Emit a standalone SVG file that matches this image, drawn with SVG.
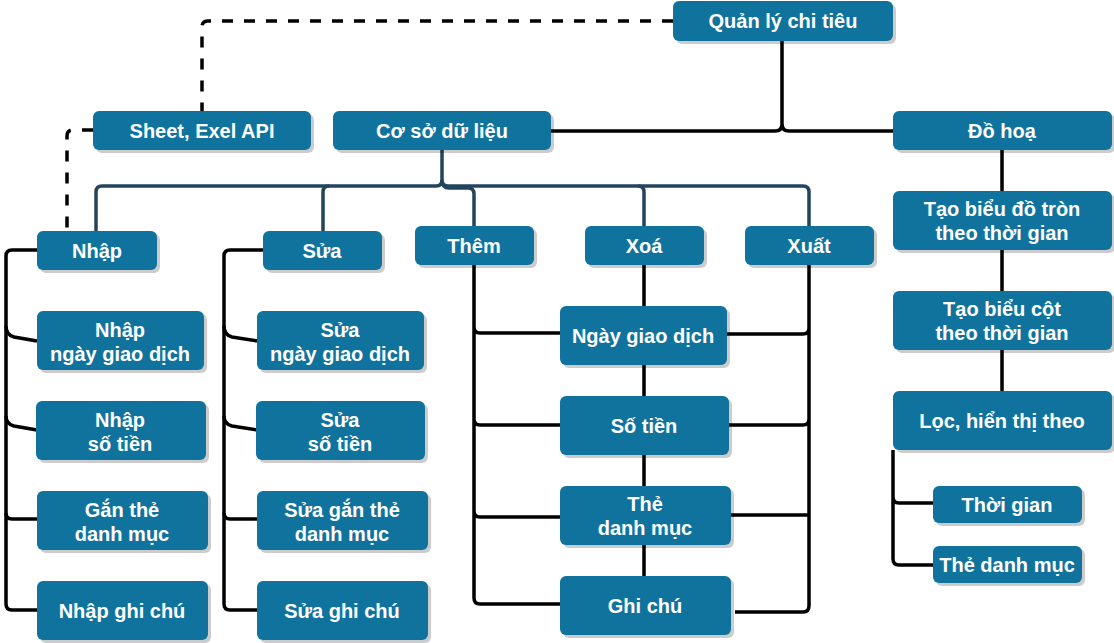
<svg xmlns="http://www.w3.org/2000/svg" width="1114" height="643" viewBox="0 0 1114 643">
<style>
.bx{fill:#10739E}
.sh{fill:#000;opacity:.2}
.t{font-family:"Liberation Sans",Arial,sans-serif;font-weight:bold;font-size:20px;fill:#fff;text-anchor:middle}
.k{fill:none;stroke:#000;stroke-width:3.5;stroke-linejoin:round}
.b{fill:none;stroke:#23445D;stroke-width:3.5;stroke-linejoin:round}
.d{fill:none;stroke:#000;stroke-width:3.5;stroke-dasharray:11 11}
</style>
<rect width="1114" height="643" fill="#fff"/>
<g id="connectors">
<path class="k" d="M782,41 V124 Q782,131 775,131 H551 M782,124 Q782,131 789,131 H893"/>
<path class="d" d="M673,21 H208 Q202,21 202,27 V111"/>
<path class="d" d="M93,130 H73 Q67,130 67,136 V231"/>
<path class="b" d="M442,150 V180 Q442,186 436,186 H102 Q96,186 96,192 V231"/>
<path class="b" d="M329,186 Q323,186 323,192 V231"/>
<path class="b" d="M442,180 Q442,188 449,188 H468 Q474,188 474,194 V226"/>
<path class="b" d="M442,180 Q442,186 448,186 H803 Q809,186 809,192 V226"/>
<path class="b" d="M638,186 Q644,186 644,192 V226"/>
<path class="k" d="M37,250 H12 Q6,250 6,256 V604 Q6,610 12,610 H37"/>
<path class="k" d="M6,326 Q6,335 14,337 L37,341 M6,416 Q6,424 14,426 L37,430 M6,513 Q6,519 12,519 H37"/>
<path class="k" d="M263,250 H230 Q224,250 224,256 V604 Q224,610 230,610 H257"/>
<path class="k" d="M224,326 Q224,335 232,337 L257,341 M224,416 Q224,424 232,426 L257,430 M224,513 Q224,519 230,519 H257"/>
<path class="k" d="M474,265 V598 Q474,604 480,604 H560 M474,327 Q474,333 480,333 H560 M474,419 Q474,425 480,425 H560 M474,511 Q474,517 480,517 H560"/>
<path class="k" d="M809,265 V606 Q809,612 803,612 H735 M727,334 H803 Q809,334 809,328 M729,425 H803 Q809,425 809,419 M731,515 H809"/>
<path class="k" d="M644,265 V306 M644,365 V396 M644,455 V486 M644,545 V576"/>
<path class="k" d="M1002,150 V191 M1002,250 V291 M1002,350 V391"/>
<path class="k" d="M893,450 V559 Q893,565 899,565 H933 M893,497 Q893,503 899,503 H933"/>
</g>
<g id="quanly"><rect class="sh" x="676" y="4" width="220" height="40" rx="6"/><rect class="bx" x="673" y="1" width="220" height="40" rx="6"/><text class="t" x="783" y="28">Quản lý chi tiêu</text></g>
<g id="sheet"><rect class="sh" x="96" y="114" width="218" height="39" rx="6"/><rect class="bx" x="93" y="111" width="218" height="39" rx="6"/><text class="t" x="202" y="138">Sheet, Exel API</text></g>
<g id="csdl"><rect class="sh" x="336" y="114" width="218" height="39" rx="6"/><rect class="bx" x="333" y="111" width="218" height="39" rx="6"/><text class="t" x="442" y="138">Cơ sở dữ liệu</text></g>
<g id="dohoa"><rect class="sh" x="896" y="114" width="219" height="39" rx="6"/><rect class="bx" x="893" y="111" width="219" height="39" rx="6"/><text class="t" x="1002" y="138">Đồ hoạ</text></g>
<g id="nhap"><rect class="sh" x="40" y="234" width="120" height="39" rx="6"/><rect class="bx" x="37" y="231" width="120" height="39" rx="6"/><text class="t" x="97" y="258">Nhập</text></g>
<g id="sua"><rect class="sh" x="266" y="234" width="119" height="39" rx="6"/><rect class="bx" x="263" y="231" width="119" height="39" rx="6"/><text class="t" x="322" y="258">Sửa</text></g>
<g id="them"><rect class="sh" x="418" y="229" width="119" height="39" rx="6"/><rect class="bx" x="415" y="226" width="119" height="39" rx="6"/><text class="t" x="474" y="253">Thêm</text></g>
<g id="xoa"><rect class="sh" x="588" y="229" width="119" height="39" rx="6"/><rect class="bx" x="585" y="226" width="119" height="39" rx="6"/><text class="t" x="644" y="253">Xoá</text></g>
<g id="xuat"><rect class="sh" x="748" y="229" width="129" height="39" rx="6"/><rect class="bx" x="745" y="226" width="129" height="39" rx="6"/><text class="t" x="809" y="253">Xuất</text></g>
<g id="bdtron"><rect class="sh" x="896" y="194" width="219" height="59" rx="6"/><rect class="bx" x="893" y="191" width="219" height="59" rx="6"/><text class="t" x="1002" y="216">Tạo biểu đồ tròn</text><text class="t" x="1002" y="240">theo thời gian</text></g>
<g id="bdcot"><rect class="sh" x="896" y="294" width="219" height="59" rx="6"/><rect class="bx" x="893" y="291" width="219" height="59" rx="6"/><text class="t" x="1002" y="316">Tạo biểu cột</text><text class="t" x="1002" y="340">theo thời gian</text></g>
<g id="loc"><rect class="sh" x="896" y="394" width="219" height="59" rx="6"/><rect class="bx" x="893" y="391" width="219" height="59" rx="6"/><text class="t" x="1002" y="428">Lọc, hiển thị theo</text></g>
<g id="thoigian"><rect class="sh" x="936" y="489" width="149" height="37" rx="6"/><rect class="bx" x="933" y="486" width="149" height="37" rx="6"/><text class="t" x="1007" y="512">Thời gian</text></g>
<g id="thedanhmuc2"><rect class="sh" x="936" y="549" width="149" height="37" rx="6"/><rect class="bx" x="933" y="546" width="149" height="37" rx="6"/><text class="t" x="1007" y="572">Thẻ danh mục</text></g>
<g id="n1"><rect class="sh" x="40" y="314" width="167" height="59" rx="6"/><rect class="bx" x="37" y="311" width="167" height="59" rx="6"/><text class="t" x="120" y="337">Nhập</text><text class="t" x="120" y="361">ngày giao dịch</text></g>
<g id="n2"><rect class="sh" x="39" y="404" width="170" height="59" rx="6"/><rect class="bx" x="36" y="401" width="170" height="59" rx="6"/><text class="t" x="120" y="427">Nhập</text><text class="t" x="120" y="451">số tiền</text></g>
<g id="n3"><rect class="sh" x="40" y="494" width="171" height="59" rx="6"/><rect class="bx" x="37" y="491" width="171" height="59" rx="6"/><text class="t" x="122" y="517">Gắn thẻ</text><text class="t" x="122" y="541">danh mục</text></g>
<g id="n4"><rect class="sh" x="40" y="584" width="171" height="59" rx="6"/><rect class="bx" x="37" y="581" width="171" height="59" rx="6"/><text class="t" x="122" y="618">Nhập ghi chú</text></g>
<g id="s1"><rect class="sh" x="260" y="314" width="167" height="59" rx="6"/><rect class="bx" x="257" y="311" width="167" height="59" rx="6"/><text class="t" x="340" y="337">Sửa</text><text class="t" x="340" y="361">ngày giao dịch</text></g>
<g id="s2"><rect class="sh" x="259" y="404" width="169" height="59" rx="6"/><rect class="bx" x="256" y="401" width="169" height="59" rx="6"/><text class="t" x="340" y="427">Sửa</text><text class="t" x="340" y="451">số tiền</text></g>
<g id="s3"><rect class="sh" x="260" y="494" width="171" height="59" rx="6"/><rect class="bx" x="257" y="491" width="171" height="59" rx="6"/><text class="t" x="342" y="517">Sửa gắn thẻ</text><text class="t" x="342" y="541">danh mục</text></g>
<g id="s4"><rect class="sh" x="260" y="584" width="171" height="59" rx="6"/><rect class="bx" x="257" y="581" width="171" height="59" rx="6"/><text class="t" x="342" y="618">Sửa ghi chú</text></g>
<g id="c1"><rect class="sh" x="563" y="309" width="167" height="59" rx="6"/><rect class="bx" x="560" y="306" width="167" height="59" rx="6"/><text class="t" x="643" y="343">Ngày giao dịch</text></g>
<g id="c2"><rect class="sh" x="563" y="399" width="169" height="59" rx="6"/><rect class="bx" x="560" y="396" width="169" height="59" rx="6"/><text class="t" x="644" y="433">Số tiền</text></g>
<g id="c3"><rect class="sh" x="563" y="489" width="171" height="59" rx="6"/><rect class="bx" x="560" y="486" width="171" height="59" rx="6"/><text class="t" x="645" y="511">Thẻ</text><text class="t" x="645" y="535">danh mục</text></g>
<g id="c4"><rect class="sh" x="563" y="579" width="171" height="59" rx="6"/><rect class="bx" x="560" y="576" width="171" height="59" rx="6"/><text class="t" x="645" y="613">Ghi chú</text></g>
</svg>
